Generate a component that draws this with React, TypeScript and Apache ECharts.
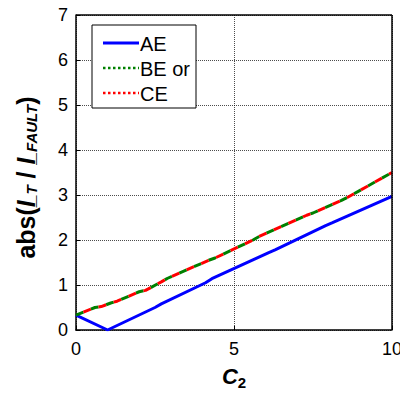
import React, { useEffect, useRef } from "react";
import * as echarts from "echarts";

const xTicks = [0, 5, 10];
const aeX = [0, 1, 2.5, 2.7, 4.1, 4.3, 6.1, 6.3, 7.9, 8.1, 10];
const aeY = [0.33, 0, 0.5, 0.58, 1.05, 1.14, 1.72, 1.78, 2.32, 2.38, 2.97];
const beX = [0, 0.6, 0.8, 1.1, 1.3, 2.0, 2.2, 2.7, 2.9, 4.2, 4.4, 5.6, 5.8, 7.3, 7.5, 8.4, 8.6, 10];
const beY = [0.33, 0.5, 0.52, 0.6, 0.64, 0.85, 0.88, 1.07, 1.15, 1.55, 1.6, 2.0, 2.08, 2.55, 2.6, 2.88, 2.95, 3.5];
const seriesNames = ["AE", "BE or", "CE"];

const FONT = "Liberation Sans, Arial, sans-serif";

export default function App() {
  const ref = useRef<HTMLDivElement>(null);
  useEffect(() => {
    if (!ref.current) return;
    const chart = echarts.init(ref.current, null, { renderer: "svg" });
    const ae = aeX.map((x, i) => [x, aeY[i]]);
    const be = beX.map((x, i) => [x, beY[i]]);
    const gridLine = { show: true, lineStyle: { color: "#000", type: [1, 1], width: 1, opacity: 0.7 } };
    const b = { fontWeight: "bold", fontFamily: FONT, color: "#000" };
    chart.setOption({
      animation: false,
      backgroundColor: "#fff",
      grid: { left: 76, top: 15, right: 8, bottom: 64, show: false, outerBoundsMode: "none", containLabel: false },
      xAxis: {
        type: "value",
        min: xTicks[0],
        max: xTicks[xTicks.length - 1],
        interval: 5,
        axisLine: { show: true, onZero: false, lineStyle: { color: "#000", width: 1.5 } },
        axisTick: { show: true, inside: true, length: 4, lineStyle: { color: "#000" } },
        axisLabel: { color: "#000", fontSize: 18, fontFamily: FONT, margin: 10, showMaxLabel: true, hideOverlap: false },
        splitLine: gridLine,
        name: "{c|C}{s|2}",
        nameLocation: "middle",
        nameGap: 33,
        nameTextStyle: {
          rich: {
            c: { ...b, fontSize: 22, fontStyle: "italic" },
            s: { ...b, fontSize: 15, padding: [12, 0, 0, 0] },
          },
        },
      },
      yAxis: {
        type: "value",
        min: 0,
        max: 7,
        interval: 1,
        axisLine: { show: true, onZero: false, lineStyle: { color: "#000", width: 1.5 } },
        axisTick: { show: true, inside: true, length: 4, lineStyle: { color: "#000" } },
        axisLabel: { color: "#000", fontSize: 18, fontFamily: FONT, margin: 8 },
        splitLine: gridLine,
        name: "{a|abs(}{i|I}{u|_}{s|T}{a| / }{i|I}{u|_}{s|FAULT}{a|)}",
        nameLocation: "middle",
        nameRotate: 90,
        nameGap: 37,
        nameTextStyle: {
          padding: [0, 10, 0, 0],
          rich: {
            a: { ...b, fontSize: 25 },
            i: { ...b, fontSize: 25, fontStyle: "italic" },
            u: { ...b, fontSize: 21, fontStyle: "italic", padding: [0, 0, 0, -6] },
            s: { ...b, fontSize: 15, fontStyle: "italic", padding: [11, 0, 0, 0] },
          },
        },
      },
      series: [
        {
          name: seriesNames[0],
          type: "line",
          data: ae,
          showSymbol: false,
          lineStyle: { color: "#0000ff", width: 3 },
          z: 3,
        },
        {
          name: seriesNames[1],
          type: "line",
          data: be,
          showSymbol: false,
          lineStyle: { color: "#008000", width: 3, type: [8, 8], cap: "butt" },
          z: 4,
        },
        {
          name: seriesNames[2],
          type: "line",
          data: be,
          showSymbol: false,
          lineStyle: { color: "#ff0000", width: 3, type: [8, 8], dashOffset: 8, cap: "butt" },
          z: 5,
        },
      ],
      graphic: [
        { type: "line", shape: { x1: 76, y1: 15, x2: 392, y2: 15 }, style: { stroke: "#000", lineWidth: 1.5 }, z: 10 },
        { type: "line", shape: { x1: 392, y1: 15, x2: 392, y2: 330 }, style: { stroke: "#000", lineWidth: 1.5 }, z: 10 },
        { type: "rect", shape: { x: 92, y: 25, width: 104, height: 83 }, style: { fill: "#fff", stroke: "#000", lineWidth: 1 }, z: 20 },
        { type: "line", shape: { x1: 103, y1: 43, x2: 139, y2: 43 }, style: { stroke: "#0000ff", lineWidth: 3 }, z: 21 },
        { type: "line", shape: { x1: 103, y1: 68, x2: 139, y2: 68 }, style: { stroke: "#008000", lineWidth: 2.5, lineDash: [2.5, 2.5] }, z: 21 },
        { type: "line", shape: { x1: 103, y1: 93, x2: 139, y2: 93 }, style: { stroke: "#ff0000", lineWidth: 2.5, lineDash: [2.5, 2.5] }, z: 21 },
        { type: "text", x: 140, y: 44, style: { text: seriesNames[0], fontSize: 20, fontFamily: FONT, fill: "#000", verticalAlign: "middle" }, z: 21 },
        { type: "text", x: 140, y: 69, style: { text: seriesNames[1], fontSize: 20, fontFamily: FONT, fill: "#000", verticalAlign: "middle" }, z: 21 },
        { type: "text", x: 140, y: 94, style: { text: seriesNames[2], fontSize: 20, fontFamily: FONT, fill: "#000", verticalAlign: "middle" }, z: 21 },
      ],
    });
    return () => chart.dispose();
  }, []);
  return <div ref={ref} style={{ position: "fixed", left: 0, top: 0, width: 400, height: 394 }} />;
}
